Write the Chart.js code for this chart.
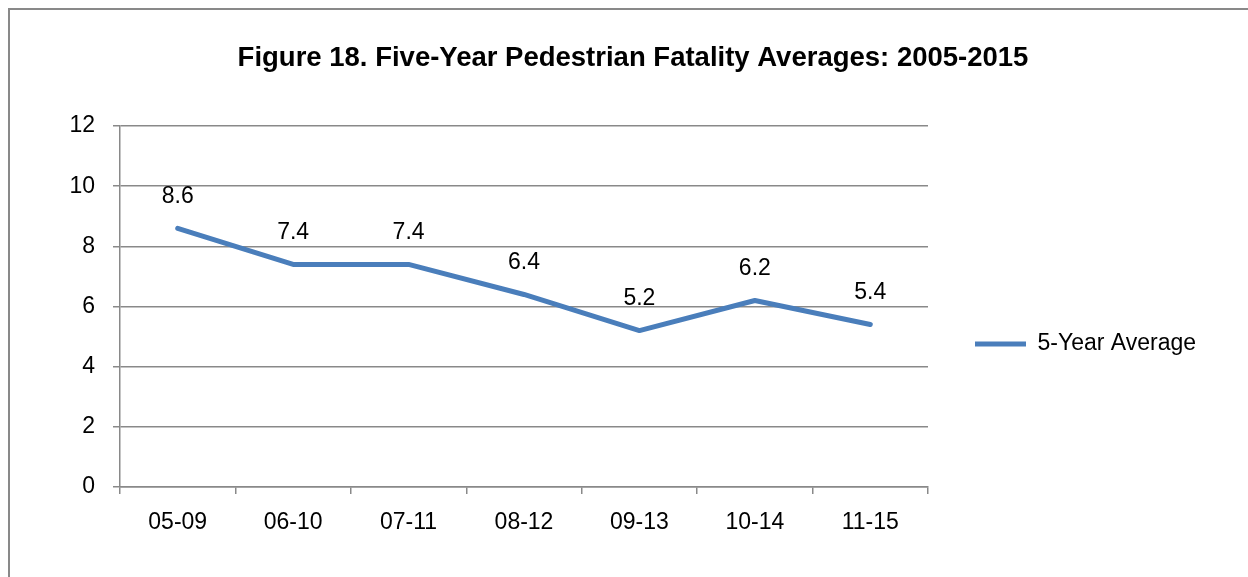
<!DOCTYPE html>
<html>
<head>
<meta charset="utf-8">
<script src="https://cdn.jsdelivr.net/npm/chart.js@4.4.1/dist/chart.umd.min.js"></script>
<style>
  html, body { margin: 0; padding: 0; background: #fff; overflow: hidden; }
  #frame {
    position: absolute; left: 8px; top: 8px; width: 1400px; height: 800px;
    border-left: 2px solid #898989; border-top: 2px solid #898989;
  }
  #wrap { position: absolute; left: 0; top: 0; width: 1248px; height: 577px; }
</style>
</head>
<body>
<div id="frame"></div>
<div id="wrap"><canvas id="myChart" width="1248" height="577"></canvas></div>
<script>
const periods = ['05-09', '06-10', '07-11', '08-12', '09-13', '10-14', '11-15'];
const averages = [8.6, 7.4, 7.4, 6.4, 5.2, 6.2, 5.4];
const yTicks = [0, 2, 4, 6, 8, 10, 12];

const ctx = document.getElementById('myChart');
const gris = '#898989';

Chart.defaults.font.family = "'Liberation Sans', Arial, sans-serif";
Chart.defaults.color = '#000';

// etiquetas de valor encima de cada punto
const etiquetas = {
  id: 'etiquetas',
  afterDatasetsDraw(chart) {
    const c = chart.ctx;
    const meta = chart.getDatasetMeta(0);
    c.save();
    c.font = "23px 'Liberation Sans', Arial, sans-serif";
    c.fillStyle = '#000';
    c.textAlign = 'center';
    c.textBaseline = 'middle';
    meta.data.forEach((pt, i) => {
      c.fillText(chart.data.datasets[0].data[i].toFixed(1), pt.x, pt.y - 32);
    });
    c.restore();
  }
};

new Chart(ctx, {
  type: 'line',
  data: {
    labels: periods,
    datasets: [{
      label: '5-Year Average',
      data: averages,
      borderColor: '#4A7EBB',
      backgroundColor: '#4A7EBB',
      borderWidth: 5,
      borderCapStyle: 'round',
      borderJoinStyle: 'round',
      pointRadius: 0,
      tension: 0
    }]
  },
  options: {
    responsive: false,
    animation: false,
    devicePixelRatio: 1,
    layout: { padding: { left: 68, right: 50, top: 0, bottom: 0 } },
    plugins: {
      title: {
        display: true,
        text: 'Figure 18. Five-Year Pedestrian Fatality Averages: 2005-2015',
        color: '#000',
        font: { size: 27.5, weight: 'bold' },
        padding: { top: 41.5, bottom: 51.5 }
      },
      legend: {
        position: 'right',
        maxWidth: 270,
        title: { display: true, text: '', font: { size: 12 }, padding: { top: 0, bottom: 96.6 } },
        labels: {
          usePointStyle: true,
          pointStyle: 'line',
          pointStyleWidth: 51,
          padding: 47,
          color: '#000',
          font: { size: 23 }
        }
      },
      tooltip: { enabled: false }
    },
    scales: {
      x: {
        offset: true,
        grid: { offset: true, drawOnChartArea: false, drawTicks: true, tickLength: 7, color: gris, lineWidth: 1.5 },
        border: { color: gris, width: 1.5 },
        ticks: { padding: 15, font: { size: 23 }, color: '#000', maxRotation: 0 },
        afterFit(scale) { scale.height = 90; }
      },
      y: {
        min: 0,
        max: 12,
        grid: { color: gris, lineWidth: 1.5, tickLength: 7 },
        border: { color: gris, width: 1.5 },
        ticks: {
          stepSize: 2,
          padding: 18,
          font: { size: 23 },
          color: '#000',
          callback: (v) => yTicks.includes(v) ? v : ''
        },
        afterFit(scale) { scale.width = 52; }
      }
    }
  },
  plugins: [etiquetas]
});
</script>
</body>
</html>
